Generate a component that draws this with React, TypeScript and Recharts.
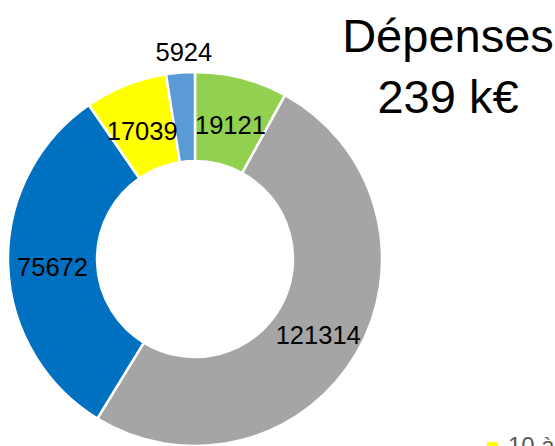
import React from "react";
import { PieChart, Pie, Cell } from "recharts";

const categories = ["Catégorie 1", "Catégorie 2", "Catégorie 3", "Catégorie 4", "Catégorie 5"];
const values = [19121, 121314, 75672, 17039, 5924];
const colors = ["#92D050", "#A5A5A5", "#0070C0", "#FFFF00", "#5B9BD5"];
const titleLines = ["Dépenses", "239 k€"];
const legendPartial = "10 à 20 k€";

const data = categories.map((name, i) => ({ name, value: values[i] }));

const RAD = Math.PI / 180;

const renderLabel = (props: any) => {
  const { cx, cy, midAngle, innerRadius, outerRadius, index, value } = props;
  const outside = index === values.length - 1;
  const r = outside ? outerRadius + 21 : (innerRadius + outerRadius) / 2;
  const x = cx + r * Math.cos(-midAngle * RAD) + (outside ? 5 : 0);
  const y = cy + r * Math.sin(-midAngle * RAD) + (outside ? 0 : 4);
  return (
    <text
      x={x}
      y={y}
      textAnchor="middle"
      dominantBaseline="central"
      fill="#000"
      fontSize={25.5}
      fontFamily="'Liberation Sans', Arial, sans-serif"
    >
      {value}
    </text>
  );
};

export default function App() {
  return (
    <div
      style={{
        position: "absolute",
        left: 0,
        top: 0,
        width: 555,
        height: 446,
        overflow: "hidden",
        background: "#fff",
      }}
    >
      <PieChart width={555} height={446} margin={{ top: 0, right: 0, bottom: 0, left: 0 }}>
        <Pie
          data={data}
          dataKey="value"
          nameKey="name"
          cx={195}
          cy={259}
          innerRadius={98}
          outerRadius={187}
          startAngle={90}
          endAngle={-270}
          stroke="#fff"
          strokeWidth={2.5}
          label={renderLabel}
          labelLine={false}
          isAnimationActive={false}
        >
          {data.map((d, i) => (
            <Cell key={d.name} fill={colors[i]} />
          ))}
        </Pie>
      </PieChart>
      <div
        style={{
          position: "absolute",
          left: 330,
          top: 5,
          width: 236,
          textAlign: "center",
          fontFamily: "'Liberation Sans', Arial, sans-serif",
          fontSize: 47,
          lineHeight: "61px",
          color: "#000",
        }}
      >
        <div>{titleLines[0]}</div>
        <div>{titleLines[1]}</div>
      </div>
      <div
        style={{
          position: "absolute",
          left: 487,
          top: 442,
          width: 11,
          height: 11,
          background: colors[3],
        }}
      />
      <div
        style={{
          position: "absolute",
          left: 508,
          top: 432,
          whiteSpace: "nowrap",
          fontFamily: "'Liberation Sans', Arial, sans-serif",
          fontSize: 24,
          lineHeight: "28px",
          color: "#595959",
        }}
      >
        {legendPartial}
      </div>
    </div>
  );
}
